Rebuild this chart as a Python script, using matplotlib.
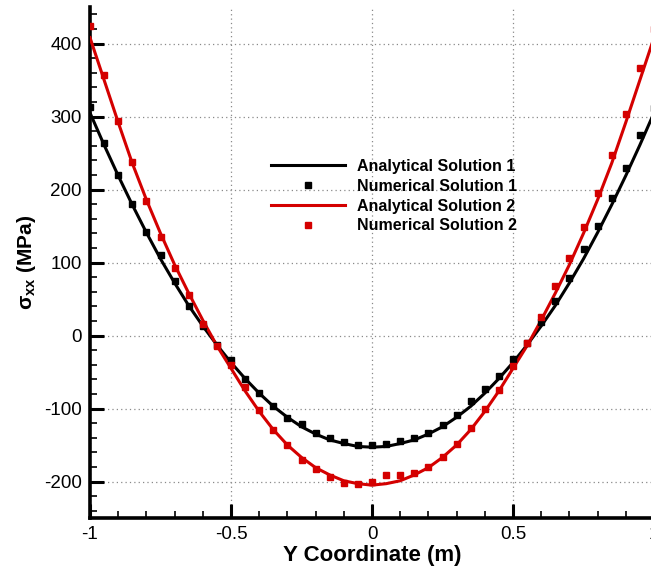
import matplotlib
matplotlib.use("Agg")
import matplotlib.pyplot as plt
from matplotlib.ticker import MultipleLocator

plt.rcParams["font.family"] = ["Liberation Sans", "DejaVu Sans"]
plt.rcParams["mathtext.fontset"] = "custom"
plt.rcParams["mathtext.rm"] = "Liberation Sans:bold"
plt.rcParams["axes.unicode_minus"] = False

# --------------------------------------------------------------------------- #
# Data
# --------------------------------------------------------------------------- #
y_coord = [-1.00, -0.95, -0.90, -0.85, -0.80, -0.75, -0.70, -0.65, -0.60, -0.55,
           -0.50, -0.45, -0.40, -0.35, -0.30, -0.25, -0.20, -0.15, -0.10, -0.05,
           0.00, 0.05, 0.10, 0.15, 0.20, 0.25, 0.30, 0.35, 0.40, 0.45,
           0.50, 0.55, 0.60, 0.65, 0.70, 0.75, 0.80, 0.85, 0.90, 0.95, 1.00]

analytical_1 = [305, 261, 219, 179, 141, 105, 72, 41, 13, -13,
                -37, -59, -79, -97, -112, -125, -135, -143, -148, -152,
                -153, -152, -148, -143, -135, -125, -112, -97, -79, -59,
                -37, -13, 13, 41, 72, 105, 141, 179, 219, 261, 305]

numerical_1 = [313, 264, 220, 180, 142, 110, 75, 41, 13, -13,
               -34, -59, -79, -97, -113, -121, -133, -141, -146, -150,
               -150, -148, -144, -141, -133, -122, -109, -90, -73, -56,
               -32, -10, 18, 47, 79, 118, 150, 188, 229, 274, 312]

analytical_2 = [408, 350, 292, 236, 186, 140, 97, 58, 21, -14,
                -45, -76, -104, -129, -150, -167, -181, -191, -199, -203,
                -205, -203, -199, -191, -181, -167, -150, -129, -104, -76,
                -45, -14, 21, 58, 97, 140, 186, 236, 292, 350, 408]

numerical_2 = [424, 357, 294, 238, 184, 135, 92, 55, 16, -15,
               -41, -70, -102, -130, -150, -170, -183, -194, -202, -203,
               -200, -191, -191, -188, -180, -167, -149, -127, -101, -74,
               -42, -10, 26, 68, 106, 149, 195, 247, 304, 366, 420]

X_TICKS = [-1, -0.5, 0, 0.5, 1]
X_TICKLABELS = ["-1", "-0.5", "0", "0.5", "1"]
Y_TICKS = [-200, -100, 0, 100, 200, 300, 400]


def main() -> None:
    fig = plt.figure(figsize=(6.51, 5.72), dpi=100)
    # axes run past the right edge a little: x = 1 sits just off the picture
    ax = fig.add_axes([90 / 651, 54 / 572, 564 / 651, 511 / 572])

    ax.plot(y_coord, analytical_1, color="black", lw=2.2,
            label="Analytical Solution 1", zorder=3)
    ax.plot(y_coord, numerical_1, ls="none", marker="s", ms=4.8,
            color="black", label="Numerical Solution 1", zorder=4)
    ax.plot(y_coord, analytical_2, color="#d40000", lw=2.2,
            label="Analytical Solution 2", zorder=3)
    ax.plot(y_coord, numerical_2, ls="none", marker="s", ms=4.8,
            color="#d40000", label="Numerical Solution 2", zorder=4)

    ax.set_xlim(-1, 1)
    ax.set_ylim(-250, 450)

    ax.set_xticks(X_TICKS)
    ax.set_xticklabels(X_TICKLABELS)
    ax.set_yticks(Y_TICKS)
    ax.xaxis.set_minor_locator(MultipleLocator(0.1))
    ax.yaxis.set_minor_locator(MultipleLocator(20))

    ax.tick_params(which="major", direction="in", length=10, width=2.2,
                   labelsize=13.5, pad=6, colors="black")
    ax.tick_params(which="minor", direction="in", length=5, width=1.2,
                   colors="black")

    for side in ("top", "right"):
        ax.spines[side].set_visible(False)
    for side in ("left", "bottom"):
        ax.spines[side].set_linewidth(2.6)

    ax.grid(which="major", ls=(0, (1, 2.5)), color="#8a8a8a", lw=0.9)
    ax.set_axisbelow(True)

    ax.set_xlabel("Y Coordinate (m)", fontsize=16, fontweight="bold",
                  labelpad=1)
    ax.set_ylabel("σ$_\\mathrm{xx}$ (MPa)", fontsize=15, fontweight="bold",
                  labelpad=4)

    leg = ax.legend(loc="upper left", bbox_to_anchor=(0.31, 0.715),
                    frameon=False, fontsize=11.5, handlelength=4.6,
                    handletextpad=0.8, labelspacing=0.3,
                    borderaxespad=0)
    for t in leg.get_texts():
        t.set_fontweight("bold")

    fig.savefig("out.png", dpi=100)


if __name__ == "__main__":
    main()
